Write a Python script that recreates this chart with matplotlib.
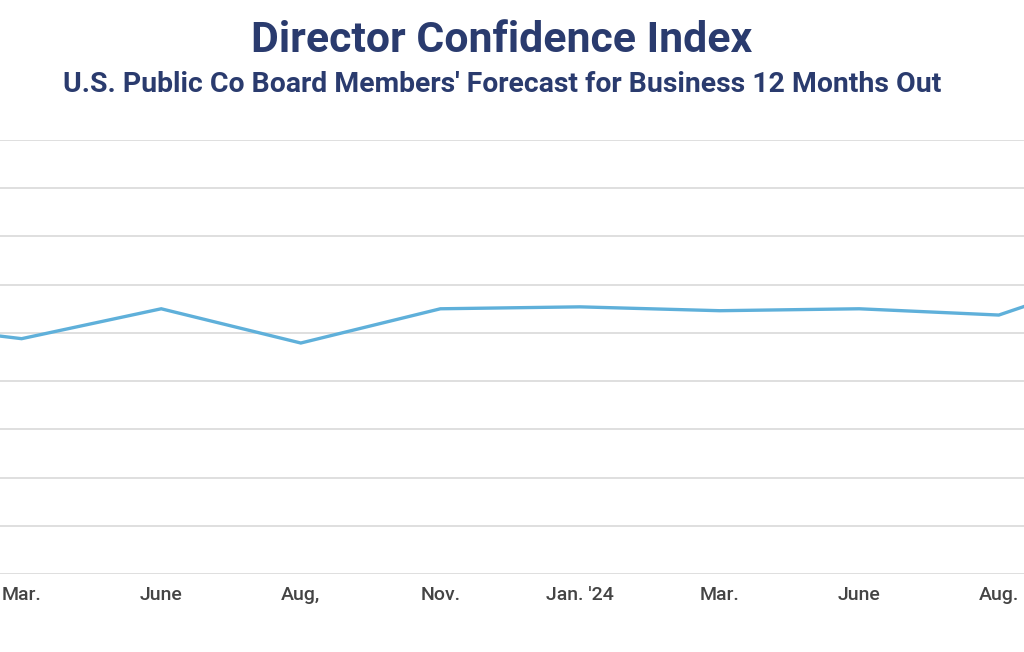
import matplotlib
matplotlib.use("Agg")
import matplotlib.pyplot as plt

categories = ["Dec. '22", "Mar.", "June", "Aug,", "Nov.", "Jan. '24", "Mar.", "June", "Aug.", "Nov."]
values = [6.23, 5.88, 6.50, 5.79, 6.50, 6.54, 6.46, 6.50, 6.37, 7.35]
y_ticks = [1, 2, 3, 4, 5, 6, 7, 8, 9, 10]

title = "Director Confidence Index"
subtitle = "U.S. Public Co Board Members' Forecast for Business 12 Months Out"

W, H = 1024, 652
fig = plt.figure(figsize=(W / 100, H / 100), dpi=100)
fig.patch.set_facecolor("white")

ax = fig.add_axes([0, 1 - 574 / H, 1, (574 - 140) / H])
x = list(range(len(categories)))
ax.plot(x, values, color="#5fb0da", lw=2.4, solid_joinstyle="miter", zorder=3)
ax.set_xticks(x)
ax.set_xticklabels(categories, fontsize=14, color="#444444", fontweight="medium",
                   family=["Roboto", "DejaVu Sans"])
ax.set_yticks(y_ticks)
ax.set_xlim((0 + 118) / 139.6, (1024 + 118) / 139.6)
ax.set_ylim(1, 10)
ax.tick_params(axis="x", length=0, pad=9)
ax.tick_params(axis="y", length=0, labelleft=False)
ax.grid(axis="y", color="#dcdcdc", lw=1.3)
ax.set_axisbelow(True)
for s in ax.spines.values():
    s.set_visible(False)

fig.text(0.49, 1 - 40 / H, title, ha="center", va="center", fontsize=30.8, fontweight="bold",
         color="#2a3b6e", family=["Roboto", "DejaVu Sans"])
fig.text(0.49, 1 - 85 / H, subtitle, ha="center", va="center", fontsize=20.4, fontweight="bold",
         color="#2a3b6e", family=["Roboto", "DejaVu Sans"])

fig.savefig("out.png", dpi=100, facecolor="white")
